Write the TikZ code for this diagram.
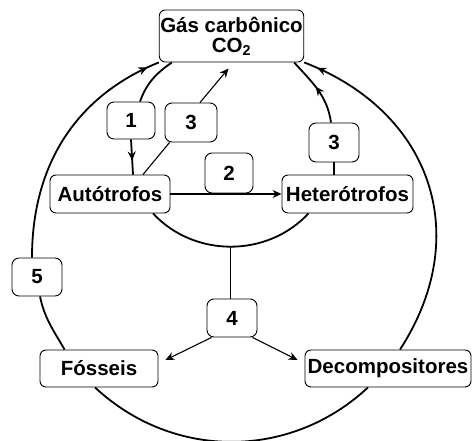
\documentclass[tikz,border=0pt]{standalone}
\usepackage{fontspec}
\setmainfont{Liberation Sans}
\usetikzlibrary{arrows.meta, positioning, decorations.markings}

\begin{document}
\begin{tikzpicture}[>={Stealth[length=9pt, width=8pt]}, x=1pt, y=1pt,
  every node/.style={font=\fontsize{20.5}{20}\selectfont\bfseries},
  box/.style={draw, rounded corners=6pt, fill=white, inner sep=1pt, line width=0.9pt},
  numbox/.style={draw, rounded corners=7pt, fill=white, inner sep=1pt, line width=0.9pt},
  cycle/.style={line width=1.8pt},
  flow/.style={line width=1.1pt},
  midarrow/.style={postaction={decorate}, decoration={markings, mark=at position #1 with {\arrow{Stealth[length=9pt, width=8pt]}}}}]
\useasboundingbox (0,0) rectangle (472,441);

\node[box, minimum width=143pt, minimum height=52pt, align=center] (co2) at (231.5,405) {Gás carbônico\\CO\textsubscript{2}};
\node[box, minimum width=120pt, minimum height=38pt] (auto) at (110,247) {Autótrofos};
\node[box, minimum width=131pt, minimum height=38pt] (het) at (347.5,247) {Heterótrofos};
\node[box, minimum width=118pt, minimum height=37pt] (fos) at (99,72.5) {Fósseis};
\node[box, minimum width=166pt, minimum height=37pt] (dec) at (388,72.5) {Decompositores};

\node[numbox, minimum width=48pt, minimum height=37pt] (n1) at (131,320.5) {1};
\node[numbox, minimum width=52pt, minimum height=39pt] (n3a) at (191,318.5) {3};
\node[numbox, minimum width=48pt, minimum height=40pt] (n2) at (229,268) {2};
\node[numbox, minimum width=50pt, minimum height=39pt] (n3b) at (334,298.5) {3};
\node[numbox, minimum width=50pt, minimum height=38pt] (n4) at (232,123) {4};
\node[numbox, minimum width=50pt, minimum height=38pt] (n5) at (37,164) {5};

\draw[cycle, midarrow=0.95] ([xshift=-5pt]n5.north) to[out=90, in=202] (co2.south west);
\draw[cycle] ([xshift=3pt]n5.south) to[out=-78, in=120] ([xshift=25pt]fos.north west);
\draw[cycle] ([xshift=-4pt]fos.south) to[out=-43, in=-137] ([xshift=-20pt]dec.south);
\draw[cycle, midarrow=0.96] ([xshift=12pt]dec.north) to[out=57, in=-21, looseness=1.15] (co2.south east);

\draw[cycle] ([xshift=9pt]n1.north) to[out=70, in=215] ([xshift=13pt]co2.south west);
\draw[cycle, midarrow=0.6] (n1.south) -- ([xshift=23pt]auto.north);
\draw[flow] ([xshift=33pt]auto.north) -- ([xshift=5pt]n3a.south west);
\draw[flow, ->] ([xshift=9pt]n3a.north) -- ([shift={(-3pt,-6pt)}]co2.south);
\draw[flow, ->] (auto) -- (het);
\draw[cycle] (n3b.south) -- (n3b.south |- het.north);
\draw[cycle, midarrow=0.55] ([xshift=-3pt]n3b.north) to[out=98, in=-48] ([xshift=-10pt]co2.south east);
\draw[cycle] ([xshift=43pt]auto.south) to[out=-47, in=-133] coordinate[pos=0.5] (bot) ([xshift=-39pt]het.south);
\draw[flow] (bot) -- (bot |- n4.north);
\draw[flow, ->] ([xshift=5pt]n4.south west) -- ([shift={(7pt,8.5pt)}]fos.east);
\draw[flow, ->] ([xshift=-5pt]n4.south east) -- ([shift={(-7pt,8.5pt)}]dec.west);
\end{tikzpicture}
\end{document}
